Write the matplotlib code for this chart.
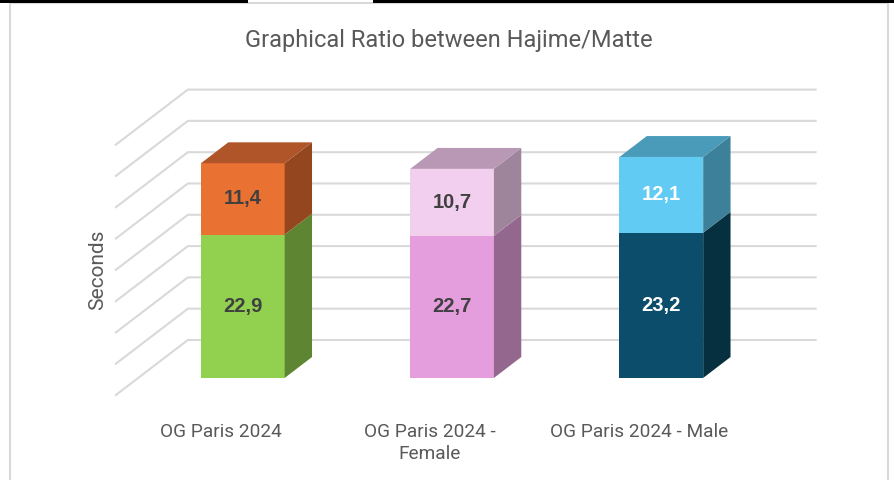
import numpy as np
import matplotlib
matplotlib.use("Agg")
from matplotlib import pyplot as plt
from matplotlib.patches import Rectangle, Polygon

# data
categories = ['OG Paris 2024', 'OG Paris 2024 -\nFemale', 'OG Paris 2024 - Male']
hajime = [22.9, 22.7, 23.2]
matte = [11.4, 10.7, 12.1]
labels_hajime = ['22,9', '22,7', '23,2']
labels_matte = ['11,4', '10,7', '12,1']
gridlines = [0, 5, 10, 15, 20, 25, 30, 35, 40]

# colours: (front, side, top) per bar and segment
col_low = [('#92D050', '#5E8532', '#78AA40'),
           ('#E59EDD', '#93678E', '#B87FB1'),
           ('#0B4D6A', '#063040', '#083C52')]
col_high = [('#E97132', '#94461F', '#B0552A'),
            ('#F2CFEE', '#9E859B', '#B898B4'),
            ('#61CBF3', '#3D8099', '#4A9BBA')]
txt_col = ['#404040', '#404040', 'white']
grid_col = '#D9D9D9'
text_col = '#595959'

# oblique projection (depth vector in data units)
kx = 0.344   # x shift for full floor depth
ky = 8.79    # value shift for full floor depth
d0, d1 = 0.31, 0.69  # bar depth range
w = 0.40

fig = plt.figure(figsize=(8.94, 4.8), dpi=100)
ax = fig.add_axes([0, 0, 1, 1])
ax.set_xlim(-1.0538, 3.2186)
ax.set_ylim(-13.58, 63.10)
ax.axis('off')

def P(x, v, d):
    return (x + d * kx, v + d * ky)

# walls
xl, xr = -0.5, len(categories) - 0.5
for g in gridlines:
    ax.plot(*zip(P(xl, g, 0), P(xl, g, 1), P(xr, g, 1)), color=grid_col, lw=1.5, zorder=1)

def box(x, v0, v1, cols, top):
    left, right = x - w / 2, x + w / 2
    front = Polygon([P(left, v0, d0), P(right, v0, d0), P(right, v1, d0), P(left, v1, d0)],
                    closed=True, fc=cols[0], ec='none', zorder=3)
    side = Polygon([P(right, v0, d0), P(right, v0, d1), P(right, v1, d1), P(right, v1, d0)],
                   closed=True, fc=cols[1], ec='none', zorder=3)
    ax.add_patch(front)
    ax.add_patch(side)
    if top:
        tp = Polygon([P(left, v1, d0), P(right, v1, d0), P(right, v1, d1), P(left, v1, d1)],
                     closed=True, fc=cols[2], ec='none', zorder=3)
        ax.add_patch(tp)

for i in range(len(categories)):
    box(i, 0, hajime[i], col_low[i], False)
    box(i, hajime[i], hajime[i] + matte[i], col_high[i], True)
    cx = P(i, 0, d0)[0]
    ax.text(cx, hajime[i] / 2 + d0 * ky, labels_hajime[i], ha='center', va='center',
            fontsize=14.5, fontweight='bold', color=txt_col[i], family='Liberation Sans', zorder=4)
    ax.text(cx, hajime[i] + matte[i] / 2 + d0 * ky, labels_matte[i], ha='center', va='center',
            fontsize=14.5, fontweight='bold', color=txt_col[i], family='Liberation Sans', zorder=4)
    ax.text(i, -4.4, categories[i], ha='center', va='top', fontsize=13.7,
            color=text_col, family='Roboto', linespacing=1.35)

fig.text(449 / 894, 1 - 40 / 480, 'Graphical Ratio between Hajime/Matte', ha='center', va='center',
         fontsize=17, color=text_col, family='Roboto')
fig.text(98 / 894, 1 - 270 / 480, 'Seconds', rotation=90, ha='center', va='center',
         fontsize=15, color=text_col, family='Roboto')

# chart frame and screenshot edge
fig.patches.append(Rectangle((10 / 894, -0.05), 878 / 894, 1.05 - 3 / 480, transform=fig.transFigure,
                             fill=False, ec='#D9D9D9', lw=1.5))
fig.patches.append(Rectangle((0, 1 - 3 / 480), 248 / 894, 3 / 480, transform=fig.transFigure,
                             fc='black', ec='none'))
fig.patches.append(Rectangle((373 / 894, 1 - 3 / 480), 521 / 894, 3 / 480, transform=fig.transFigure,
                             fc='black', ec='none'))

fig.savefig('out.png', dpi=100)
